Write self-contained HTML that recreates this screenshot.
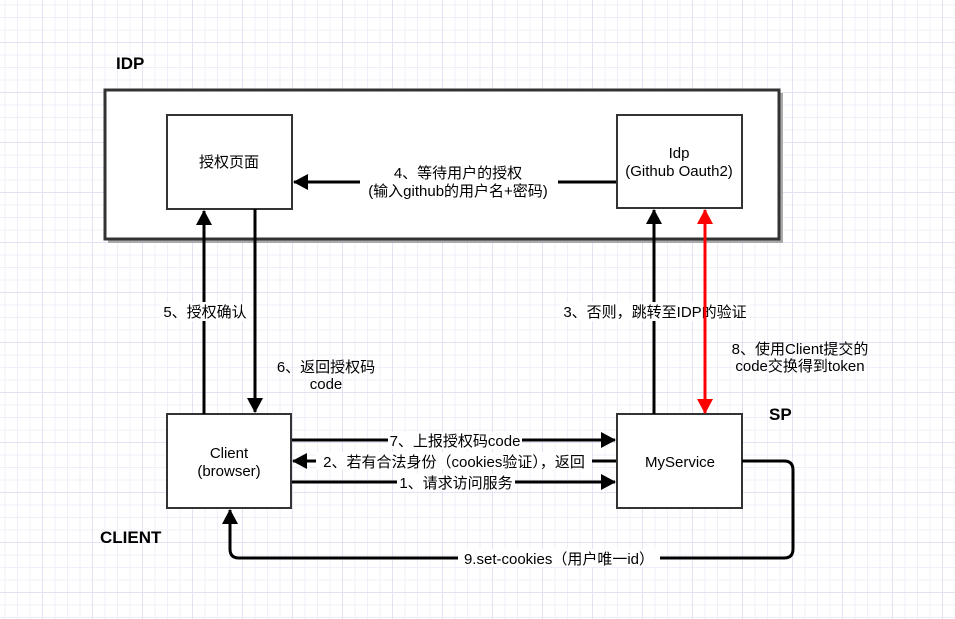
<!DOCTYPE html>
<html><head><meta charset="utf-8"><style>
html,body{margin:0;padding:0;background:#fff}
body{width:955px;height:619px;overflow:hidden;position:relative;
background-image:linear-gradient(#e2e2f4 1px,transparent 1px),linear-gradient(90deg,#e2e2f4 1px,transparent 1px),linear-gradient(#efeff9 1px,transparent 1px),linear-gradient(90deg,#efeff9 1px,transparent 1px);
background-size:50px 50px,50px 50px,12.5px 12.5px,12.5px 12.5px;background-position:-8px -8px}
svg{position:absolute;left:0;top:0}
text{font-family:"Liberation Sans","Noto Sans CJK SC",sans-serif;font-size:15px;fill:#000}
.b{font-weight:bold;font-size:17px}
</style></head><body>
<svg width="955" height="619" viewBox="0 0 955 619">
<defs>
<marker id="a" markerWidth="16" markerHeight="16" refX="14" refY="8" orient="auto" markerUnits="userSpaceOnUse"><path d="M0,0 L15,8 L0,16 Z" fill="#000"/></marker>
<marker id="r" markerWidth="16" markerHeight="16" refX="14" refY="8" orient="auto" markerUnits="userSpaceOnUse"><path d="M0,0 L15,8 L0,16 Z" fill="#f00"/></marker>
</defs>
<text class="b" x="116" y="69">IDP</text>
<text class="b" x="769" y="420">SP</text>
<text class="b" x="100" y="543">CLIENT</text>
<rect x="108" y="93" width="675" height="150" fill="#aaa"/>
<rect x="105" y="90" width="674" height="149" fill="#fff" stroke="#333" stroke-width="3"/>
<rect x="167" y="115" width="125" height="94" fill="#fff" stroke="#333" stroke-width="2"/>
<rect x="617" y="115" width="125" height="93" fill="#fff" stroke="#333" stroke-width="2"/>
<rect x="167" y="414" width="124" height="94" fill="#fff" stroke="#333" stroke-width="2"/>
<rect x="617" y="414" width="125" height="94" fill="#fff" stroke="#333" stroke-width="2"/>
<text x="229" y="167" text-anchor="middle">授权页面</text>
<text x="679" y="158" text-anchor="middle">Idp</text>
<text x="679" y="176" text-anchor="middle">(Github Oauth2)</text>
<text x="229" y="458" text-anchor="middle">Client</text>
<text x="229" y="476" text-anchor="middle">(browser)</text>
<text x="680" y="467" text-anchor="middle">MyService</text>
<line x1="616" y1="182" x2="558" y2="182" stroke="#000" stroke-width="3"/>
<line x1="360" y1="182" x2="294" y2="182" stroke="#000" stroke-width="3" marker-end="url(#a)"/>
<text x="458" y="178" text-anchor="middle">4、等待用户的授权</text>
<text x="458" y="196" text-anchor="middle">(输入github的用户名+密码)</text>
<line x1="204" y1="414" x2="204" y2="211" stroke="#000" stroke-width="3" marker-end="url(#a)"/>
<line x1="255" y1="209" x2="255" y2="412" stroke="#000" stroke-width="3" marker-end="url(#a)"/>
<line x1="654" y1="414" x2="654" y2="210" stroke="#000" stroke-width="3" marker-end="url(#a)"/>
<rect x="160" y="302" width="90" height="19" fill="#fff"/>
<text x="205" y="317" text-anchor="middle">5、授权确认</text>
<text x="326" y="372" text-anchor="middle">6、返回授权码</text>
<text x="326" y="389" text-anchor="middle">code</text>
<rect x="560" y="302" width="190" height="19" fill="#fff"/>
<text x="655" y="317" text-anchor="middle">3、否则，跳转至IDP的验证</text>
<line x1="705" y1="228" x2="705" y2="396" stroke="#f00" stroke-width="3"/>
<line x1="705" y1="300" x2="705" y2="210" stroke="#f00" stroke-width="3" marker-end="url(#r)"/>
<line x1="705" y1="300" x2="705" y2="413" stroke="#f00" stroke-width="3" marker-end="url(#r)"/>
<text x="800" y="354" text-anchor="middle">8、使用Client提交的</text>
<text x="800" y="371" text-anchor="middle">code交换得到token</text>
<line x1="292" y1="440" x2="615" y2="440" stroke="#000" stroke-width="3" marker-end="url(#a)"/>
<line x1="616" y1="461" x2="293" y2="461" stroke="#000" stroke-width="3" marker-end="url(#a)"/>
<line x1="292" y1="482" x2="615" y2="482" stroke="#000" stroke-width="3" marker-end="url(#a)"/>
<rect x="388" y="432" width="134" height="17" fill="#fff"/>
<text x="455" y="446" text-anchor="middle">7、上报授权码code</text>
<rect x="316" y="452" width="276" height="17" fill="#fff"/>
<text x="454" y="467" text-anchor="middle">2、若有合法身份（cookies验证），返回</text>
<rect x="397" y="474" width="118" height="17" fill="#fff"/>
<text x="456" y="488" text-anchor="middle">1、请求访问服务</text>
<path d="M742,461 H784 Q793,461 793,470 V549 Q793,558 784,558 H239 Q230,558 230,549 V510" fill="none" stroke="#000" stroke-width="3" marker-end="url(#a)"/>
<rect x="458" y="549" width="202" height="18" fill="#fff"/>
<text x="559" y="564" text-anchor="middle">9.set-cookies（用户唯一id）</text>
</svg>
</body></html>
